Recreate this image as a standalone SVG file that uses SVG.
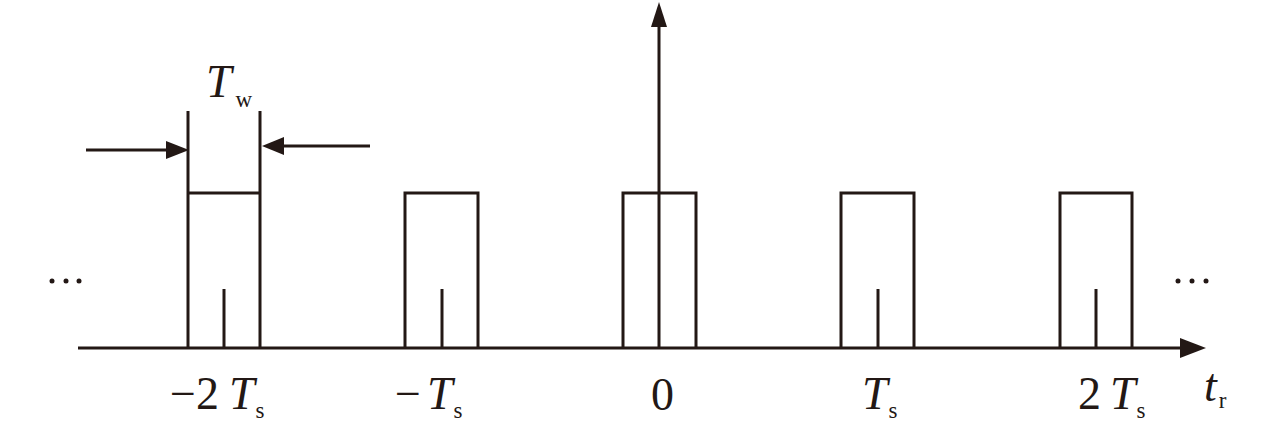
<svg xmlns="http://www.w3.org/2000/svg" width="1280" height="433" viewBox="0 0 1280 433">
<style>
.l{stroke:#231815;stroke-width:3;fill:none}
.t{font-family:"Liberation Serif",serif;fill:#231815;font-size:46px}
.i{font-style:italic}
.sub{font-size:23px;font-style:normal}
</style>
<rect width="1280" height="433" fill="#fff"/>
<g id="connectors">
<line class="l" x1="78" y1="348" x2="1182" y2="348"/>
<path d="M1180,338 L1206,348 L1180,358 Z" fill="#231815"/>
<line class="l" x1="659" y1="348" x2="659" y2="26"/>
<path d="M651,27 L659,2 L667,27 Z" fill="#231815"/>
<line class="l" x1="86" y1="150" x2="166" y2="150"/>
<path d="M166,141 L189,150 L166,159 Z" fill="#231815"/>
<line class="l" x1="370" y1="146" x2="284" y2="146"/>
<path d="M284,137 L262,146 L284,155 Z" fill="#231815"/>
</g>
<g id="pulse-m2">
<path class="l" d="M188,348 V111 M260,348 V111 M188,193 H260"/>
<line class="l" x1="224" y1="348" x2="224" y2="289"/>
</g>
<g id="pulse-m1">
<path class="l" d="M405,348 V193 H478 V348"/>
<line class="l" x1="442" y1="348" x2="442" y2="289"/>
</g>
<g id="pulse-0">
<path class="l" d="M623,348 V193 H696 V348"/>
</g>
<g id="pulse-1">
<path class="l" d="M841,348 V193 H914 V348"/>
<line class="l" x1="878" y1="348" x2="878" y2="289"/>
</g>
<g id="pulse-2">
<path class="l" d="M1060,348 V193 H1132 V348"/>
<line class="l" x1="1096" y1="348" x2="1096" y2="289"/>
</g>
<g id="dots">
<circle cx="52" cy="281" r="2.5" fill="#231815"/>
<circle cx="66" cy="281" r="2.5" fill="#231815"/>
<circle cx="79" cy="281" r="2.5" fill="#231815"/>
<circle cx="1178" cy="281" r="2.5" fill="#231815"/>
<circle cx="1192" cy="281" r="2.5" fill="#231815"/>
<circle cx="1206" cy="281" r="2.5" fill="#231815"/>
</g>
<g id="labels">
<text class="t" x="206" y="97"><tspan class="i">T</tspan><tspan class="sub" dx="4" dy="10">w</tspan></text>
<text class="t" x="170" y="409">−2<tspan class="i" dx="10">T</tspan><tspan class="sub" dx="1" dy="9">s</tspan></text>
<text class="t" x="395" y="409">−<tspan class="i" dx="6">T</tspan><tspan class="sub" dx="1" dy="9">s</tspan></text>
<text class="t" x="651" y="410">0</text>
<text class="t" x="862" y="409"><tspan class="i">T</tspan><tspan class="sub" dx="1" dy="9">s</tspan></text>
<text class="t" x="1078" y="409">2<tspan class="i" dx="9">T</tspan><tspan class="sub" dx="1" dy="9">s</tspan></text>
<text class="t" x="1204" y="401"><tspan class="i">t</tspan><tspan class="sub" dx="2" dy="7">r</tspan></text>
</g>
</svg>
